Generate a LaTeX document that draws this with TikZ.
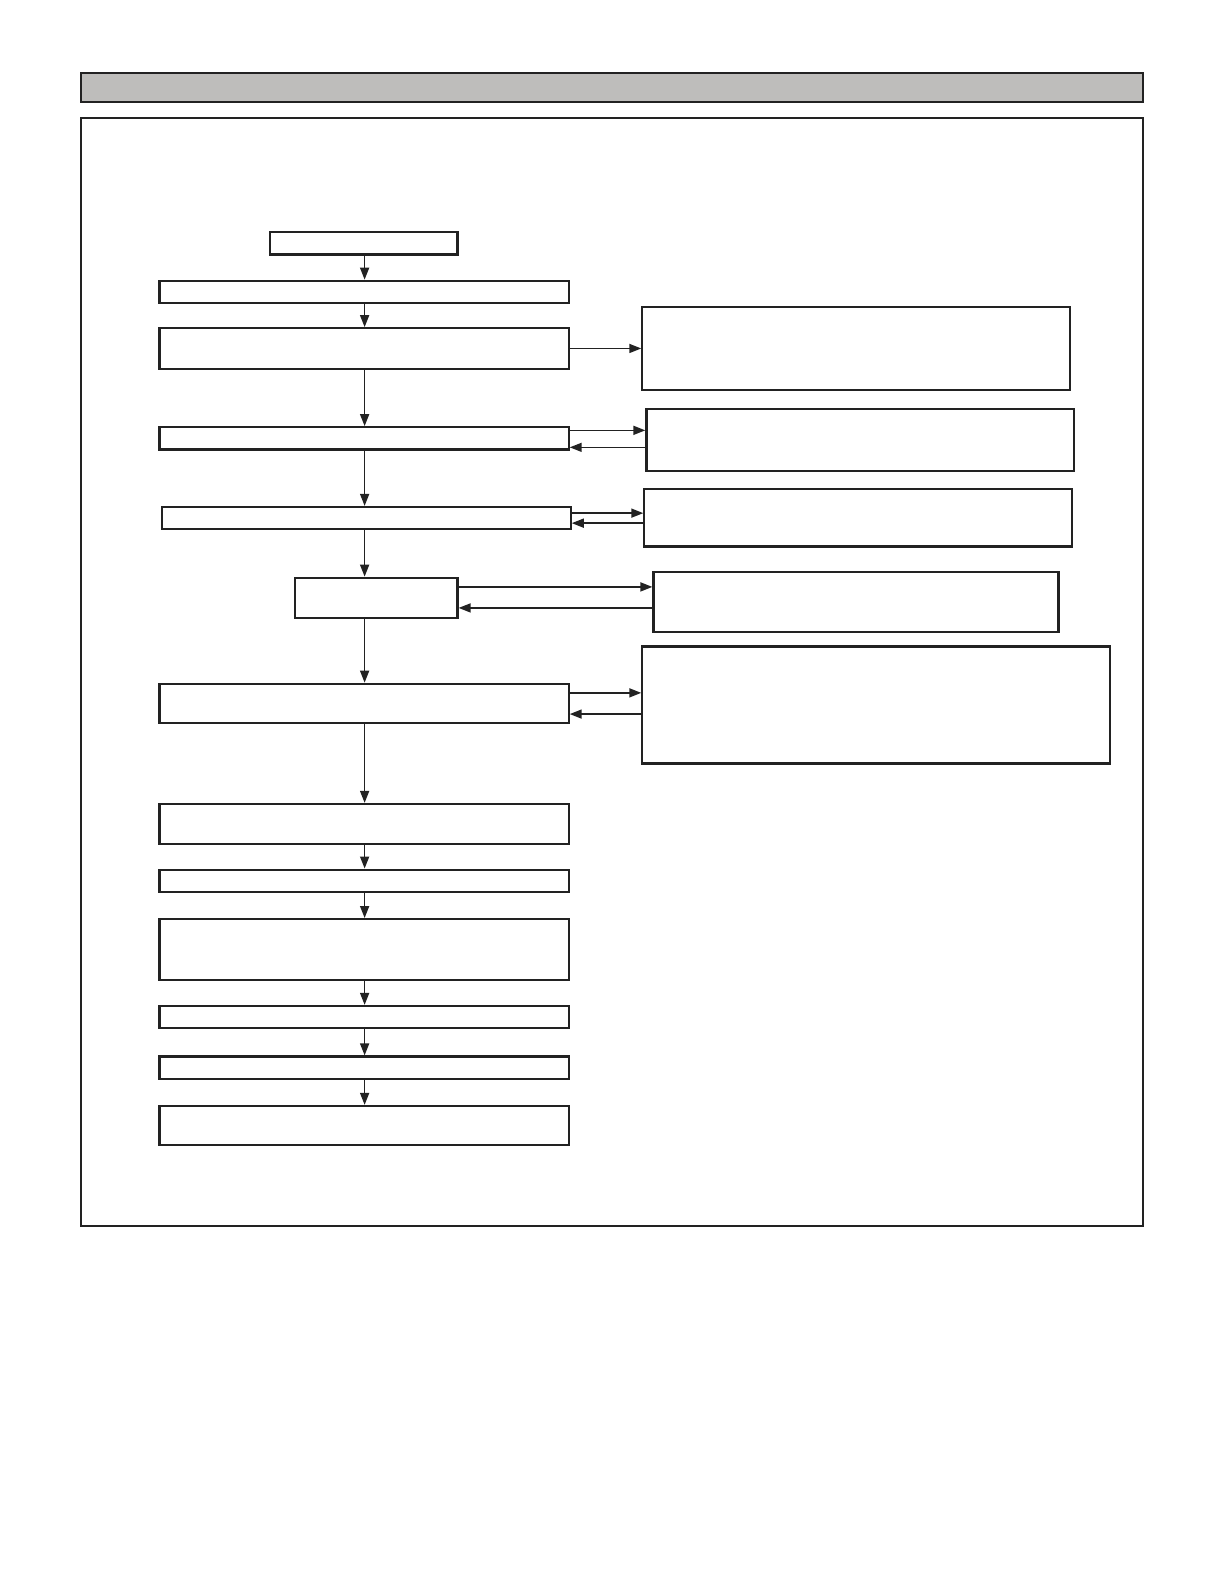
\documentclass[tikz,border=0pt]{standalone}
\usetikzlibrary{arrows.meta}
\definecolor{barfill}{RGB}{190,189,187}
\definecolor{ink}{RGB}{34,34,34}
\def\unit{0.505pt}
\tikzset{
    blk/.style={draw=ink, line width=1.1pt, inner sep=0pt, fill=white},
    arr/.style={draw=ink, line width=0.8pt, -{Triangle[length=6pt,width=4.5pt]}},
}
% block from corners: name, x1, y1, x2, y2
\def\blk#1#2#3#4#5{%
    \node [blk, minimum width={(#4-#2)*\unit}, minimum height={(#5-#3)*\unit}]
        (#1) at ({(#2+#4)/2},{(#3+#5)/2}) {};
}

\begin{document}
\begin{tikzpicture}[x=\unit,y=-\unit]
\useasboundingbox (0pt,0pt) rectangle (612pt,-792pt);
% title bar and frame
\node [blk, fill=barfill, minimum width={1052*\unit}, minimum height={29*\unit}] (bar) at (606,86.5) {};
\node [blk, fill=none, minimum width={1052*\unit}, minimum height={1097*\unit}] (frame) at (606,665.5) {};
% main column
\blk{s0}{267}{230}{453}{252}
\blk{s1}{158}{278}{563}{300}
\blk{s2}{158}{325}{563}{365}
\blk{s3}{158}{423}{563}{445}
\blk{s4}{160}{502}{565}{524}
\blk{s5}{292}{572}{453}{612}
\blk{s6}{158}{677}{563}{716}
\blk{s7}{158}{796}{563}{836}
\blk{s8}{158}{861}{563}{883}
\blk{s9}{158}{910}{563}{970}
\blk{s10}{158}{996}{563}{1018}
\blk{s11}{158}{1046}{563}{1068}
\blk{s12}{158}{1095}{563}{1134}
% side boxes
\blk{r1}{636}{304}{1059}{386}
\blk{r2}{640}{405}{1063}{466}
\blk{r3}{638}{484}{1061}{541}
\blk{r4}{647}{566}{1048}{626}
\blk{r5}{636}{640}{1099}{756}
\coordinate (axis) at (361,0);
\foreach \a/\b in {s0/s1,s1/s2,s2/s3,s3/s4,s4/s5,s5/s6,s6/s7,s7/s8,s8/s9,s9/s10,s10/s11,s11/s12}
{
    \draw [arr] (\a.south -| axis) -- (\b.north -| axis);
}
\draw [arr] (s2.east) -- (s2.east -| r1.west);
\draw [arr] ([yshift=4pt]s3.east) -- ([yshift=4pt]s3.east -| r2.west);
\draw [arr] ([yshift=-4.5pt]s3.east -| r2.west) -- ([yshift=-4.5pt]s3.east);
\draw [arr] ([yshift=2.5pt]s4.east) -- ([yshift=2.5pt]s4.east -| r3.west);
\draw [arr] ([yshift=-2.5pt]s4.east -| r3.west) -- ([yshift=-2.5pt]s4.east);
\draw [arr] ([yshift=5.5pt]s5.east) -- ([yshift=5.5pt]s5.east -| r4.west);
\draw [arr] ([yshift=-5pt]s5.east -| r4.west) -- ([yshift=-5pt]s5.east);
\draw [arr] ([yshift=5.3pt]s6.east) -- ([yshift=5.3pt]s6.east -| r5.west);
\draw [arr] ([yshift=-5.3pt]s6.east -| r5.west) -- ([yshift=-5.3pt]s6.east);
\end{tikzpicture}
\end{document}
